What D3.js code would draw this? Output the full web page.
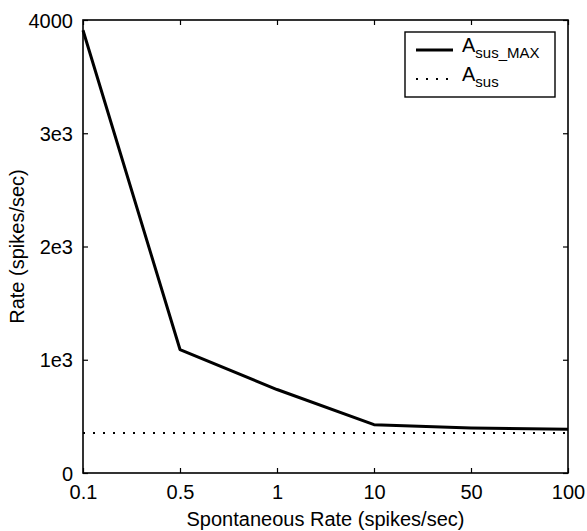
<!DOCTYPE html>
<html>
<head>
<meta charset="utf-8">
<script src="https://cdn.jsdelivr.net/npm/d3@7"></script>
<style>
  body { margin: 0; background: #fff; }
  svg { display: block; font-family: "Liberation Sans", Arial, sans-serif; }
</style>
</head>
<body>
<section></section>
<script>
// values
const rateLabels = ["0.1", "0.5", "1", "10", "50", "100"];
const asusMax = [3910, 1090, 737, 427, 398, 386];
const asus = [353, 353, 353, 353, 353, 353];
const yTicks = [0, 1000, 2000, 3000, 4000];
const yTickLabels = ["0", "1e3", "2e3", "3e3", "4000"];

const WIDTH = 587;
const HEIGHT = 531;
const M = {left: 83, right: 19, top: 20, bottom: 58};
const FS = 20;

const svg = d3.select("section")
    .append("svg")
    .attr("width", WIDTH)
    .attr("height", HEIGHT);

const xScale = d3.scalePoint()
    .domain(rateLabels)
    .range([M.left, WIDTH - M.right]);

const yScale = d3.scaleLinear()
    .domain([0, 4000])
    .range([HEIGHT - M.bottom, M.top]);

const tickFmt = d => yTickLabels[yTicks.indexOf(d)];

// axes, ticks pointing inward like matlab
const xAxis = d3.axisBottom(xScale).tickSizeInner(-5).tickSizeOuter(0).tickPadding(12);
const xTop = d3.axisTop(xScale).tickSizeInner(-5).tickSizeOuter(0).tickFormat("");
const yAxis = d3.axisLeft(yScale).tickValues(yTicks).tickFormat(tickFmt)
    .tickSizeInner(-5).tickSizeOuter(0).tickPadding(10);
const yRight = d3.axisRight(yScale).tickValues(yTicks).tickFormat("")
    .tickSizeInner(-5).tickSizeOuter(0);

svg.append("g")
    .attr("transform", "translate(0," + (HEIGHT - M.bottom) + ")")
    .call(xAxis);
svg.append("g")
    .attr("transform", "translate(0," + M.top + ")")
    .call(xTop);
const gy = svg.append("g")
    .attr("transform", "translate(" + M.left + ",0)")
    .call(yAxis);
svg.append("g")
    .attr("transform", "translate(" + (WIDTH - M.right) + ",0)")
    .call(yRight);

svg.selectAll(".domain").remove();
svg.selectAll(".tick line").attr("stroke", "#000").attr("stroke-width", 1.2);
svg.selectAll(".tick text")
    .attr("fill", "#000")
    .attr("font-size", FS)
    .attr("font-family", "Liberation Sans, Arial, sans-serif");
gy.selectAll(".tick text").attr("dy", "0.36em");

// plot frame
svg.append("rect")
    .attr("x", M.left)
    .attr("y", M.top)
    .attr("width", WIDTH - M.left - M.right)
    .attr("height", HEIGHT - M.top - M.bottom)
    .attr("fill", "none")
    .attr("stroke", "#000")
    .attr("stroke-width", 1.6);

const line = d3.line()
    .x((d, i) => xScale(rateLabels[i]))
    .y(d => yScale(d));

svg.append("path")
    .datum(asus)
    .attr("d", line)
    .attr("fill", "none")
    .attr("stroke", "#000")
    .attr("stroke-width", 2)
    .attr("stroke-dasharray", "2 8");

svg.append("path")
    .datum(asusMax)
    .attr("d", line)
    .attr("fill", "none")
    .attr("stroke", "#000")
    .attr("stroke-width", 3)
    .attr("stroke-linejoin", "round");

// axis titles
svg.append("text")
    .attr("x", (M.left + WIDTH - M.right) / 2)
    .attr("y", 526)
    .attr("text-anchor", "middle")
    .attr("font-size", FS)
    .text("Spontaneous Rate (spikes/sec)");

svg.append("text")
    .attr("transform", "translate(24," + ((M.top + HEIGHT - M.bottom) / 2) + ") rotate(-90)")
    .attr("text-anchor", "middle")
    .attr("font-size", FS)
    .text("Rate (spikes/sec)");

// legend
const legend = svg.append("g").attr("transform", "translate(405,32)");
legend.append("rect")
    .attr("width", 150)
    .attr("height", 65)
    .attr("fill", "#fff")
    .attr("stroke", "#000")
    .attr("stroke-width", 1.4);

const entries = [
    {sub: "sus_MAX", dash: null, w: 3, y: 18},
    {sub: "sus", dash: "2 8", w: 2, y: 47}
];
entries.forEach(e => {
    legend.append("line")
        .attr("x1", 11).attr("x2", 48)
        .attr("y1", e.y).attr("y2", e.y)
        .attr("stroke", "#000")
        .attr("stroke-width", e.w)
        .attr("stroke-dasharray", e.dash);
    const t = legend.append("text")
        .attr("x", 57)
        .attr("y", e.y + 2)
        .attr("font-size", 20);
    t.append("tspan").text("A");
    t.append("tspan")
        .attr("dy", 6)
        .attr("font-size", 15)
        .text(e.sub);
});
</script>
</body>
</html>
